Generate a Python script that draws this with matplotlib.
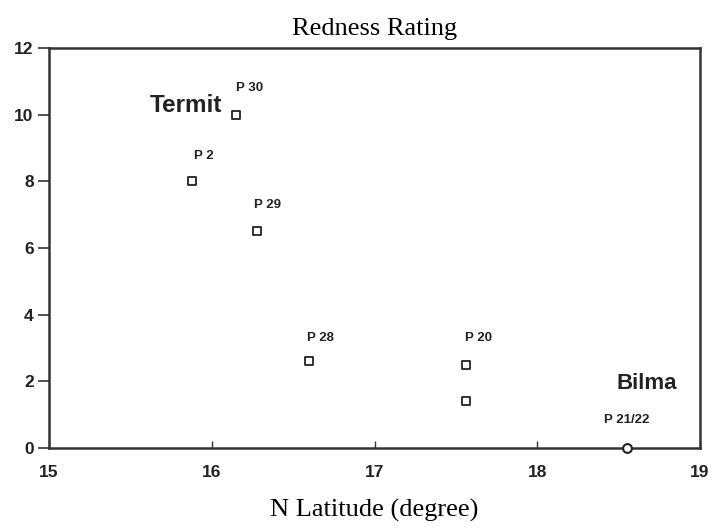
import matplotlib
matplotlib.use("Agg")
import matplotlib.pyplot as plt

# Sample sites: latitude (deg N) and redness rating
lat = [16.15, 15.88, 16.28, 16.60, 17.56, 17.56]
redness = [10.0, 8.0, 6.5, 2.6, 2.5, 1.4]
lat_bilma = [18.55]
redness_bilma = [0.0]

labels = ["P 30", "P 2", "P 29", "P 28", "P 20", "P 21/22"]
label_lat = [16.23, 15.95, 16.34, 16.67, 17.64, 18.55]
label_y = [10.8, 8.75, 7.3, 3.3, 3.3, 0.85]

xticks = [15, 16, 17, 18, 19]
yticks = [0, 2, 4, 6, 8, 10, 12]

fig = plt.figure(figsize=(7.13, 5.29), dpi=100)
ax = fig.add_axes([0.0687, 0.1531, 0.9131, 0.7562])

ax.scatter(lat, redness, marker="s", s=30, facecolors="white",
           edgecolors="#222222", linewidths=1.3, zorder=3, clip_on=False)
ax.scatter(lat_bilma, redness_bilma, marker="o", s=40, facecolors="white",
           edgecolors="#222222", linewidths=1.5, zorder=3, clip_on=False)

for txt, x, y in zip(labels, label_lat, label_y):
    ax.text(x, y, txt, fontsize=9.5, fontweight="bold", family="Liberation Sans",
            ha="center", va="center", color="#222222")

ax.text(15.84, 10.26, "Termit", fontsize=17.5, fontweight="bold",
        family="Liberation Sans", ha="center", va="center", color="#222222")
ax.text(18.67, 1.95, "Bilma", fontsize=16, fontweight="bold",
        family="Liberation Sans", ha="center", va="center", color="#222222")

ax.set_xlim(15, 19)
ax.set_ylim(0, 12)
ax.set_xticks(xticks)
ax.set_yticks(yticks)
ax.tick_params(axis="y", direction="out", length=8, width=1.2, colors="#333333",
               labelsize=12.5, pad=3)
ax.tick_params(axis="x", direction="in", length=5, width=1.0, colors="#333333",
               labelsize=12.5, pad=12)
for lab in ax.get_xticklabels() + ax.get_yticklabels():
    lab.set_fontweight("bold")
    lab.set_family("Liberation Sans")
    lab.set_color("#222222")

for sp in ax.spines.values():
    sp.set_linewidth(1.8)
    sp.set_color("#333333")

ax.set_title("Redness Rating", fontsize=19, family="Liberation Serif", pad=9)
ax.set_xlabel("N Latitude (degree)", fontsize=19, family="Liberation Serif",
              labelpad=14)

fig.savefig("out.png", dpi=100)
